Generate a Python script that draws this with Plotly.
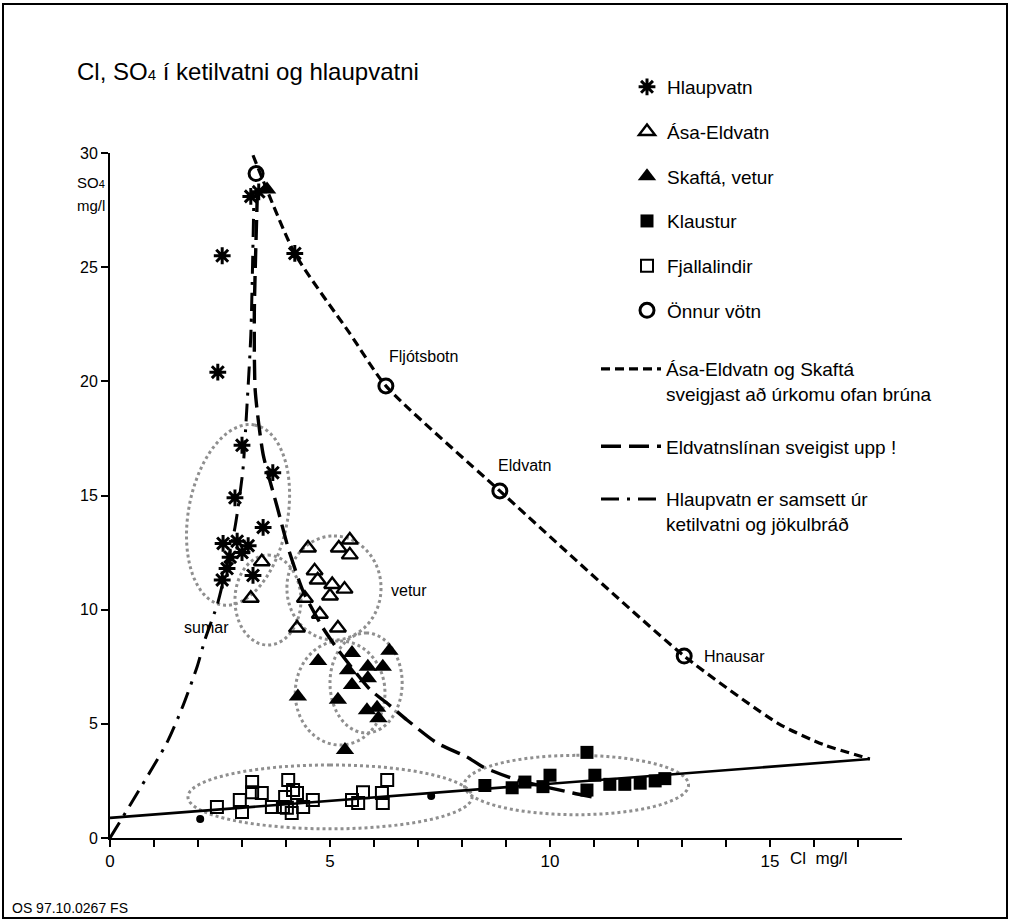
import numpy as np
import plotly.graph_objects as go

FONT = "Liberation Sans, Arial, Helvetica, sans-serif"

# ---- measured samples: Cl (mg/l) and SO4 (mg/l) ----
hlaup_cl = [3.20, 3.38, 2.55, 4.20, 2.45, 3.00, 3.70, 2.84, 3.48, 2.57, 2.89, 3.14, 3.00, 2.73, 2.66, 2.55, 3.25]
hlaup_so4 = [28.1, 28.3, 25.5, 25.6, 20.4, 17.2, 16.0, 14.9, 13.6, 12.9, 13.0, 12.8, 12.5, 12.3, 11.8, 11.3, 11.5]

asa_cl = [3.45, 3.20, 4.50, 5.20, 5.45, 5.45, 4.65, 4.72, 5.05, 5.33, 5.00, 4.43, 4.77, 4.25, 5.18]
asa_so4 = [12.1, 10.5, 12.7, 12.7, 13.05, 12.4, 11.7, 11.3, 11.1, 10.9, 10.6, 10.5, 9.8, 9.2, 9.2]

skafta_cl = [3.57, 4.73, 5.50, 6.35, 5.86, 6.20, 5.41, 5.86, 5.50, 4.27, 5.18, 5.84, 6.07, 6.10, 5.34]
skafta_so4 = [28.4, 7.75, 8.10, 8.20, 7.50, 7.50, 7.35, 7.00, 6.70, 6.20, 6.05, 5.60, 5.70, 5.25, 3.85]

klaustur_cl = [8.52, 9.14, 9.43, 9.84, 10.00, 10.84, 10.84, 11.02, 11.36, 11.70, 12.05, 12.39, 12.61]
klaustur_so4 = [2.30, 2.20, 2.45, 2.25, 2.75, 3.75, 2.10, 2.75, 2.35, 2.35, 2.40, 2.50, 2.60]

fjalla_cl = [2.43, 2.95, 3.00, 3.23, 3.23, 3.45, 3.68, 3.93, 4.05, 4.16, 3.98, 4.25, 4.02, 4.13, 4.39, 4.61,
             5.50, 5.75, 5.64, 6.18, 6.30, 6.20]
fjalla_so4 = [1.36, 1.66, 1.14, 2.45, 2.00, 1.97, 1.36, 1.36, 2.54, 2.10, 1.80, 1.97, 1.33, 1.10, 1.36, 1.66,
              1.66, 2.00, 1.53, 1.97, 2.54, 1.53]

onnur_cl = [3.32, 6.27, 8.86, 13.05]
onnur_so4 = [29.1, 19.8, 15.2, 7.97]
onnur_names = ["", "Fljótsbotn", "Eldvatn", "Hnausar"]

dots_cl = [2.05, 7.30]
dots_so4 = [0.83, 1.84]

# ---- drawn trend lines ----
rain_cl = [3.25, 4.20, 5.45, 6.27, 8.86, 13.05, 15.20, 16.20, 17.27]
rain_so4 = [29.9, 25.6, 22.1, 19.8, 15.2, 7.97, 5.00, 4.10, 3.46]

eld_cl = [3.35, 3.28, 3.30, 3.48, 3.80, 4.05, 4.39, 4.84, 5.20, 5.91, 6.30, 6.75, 7.43, 8.11, 8.48, 9.25, 10.52, 11.07]
eld_so4 = [28.3, 23.0, 19.6, 16.8, 14.5, 12.7, 10.8, 9.2, 8.2, 6.5, 5.9, 5.17, 4.16, 3.55, 3.11, 2.54, 1.97, 1.75]

mix_cl = [0.00, 1.30, 1.66, 1.98, 2.16, 2.45, 2.84, 3.02, 3.10, 3.20, 3.27]
mix_so4 = [0.0, 4.2, 5.8, 7.5, 8.7, 10.3, 13.6, 16.1, 18.5, 22.0, 28.0]

base_cl = [0.0, 17.27]
base_so4 = [0.88, 3.46]

# group outlines: centre, half-axis vector 1, half-axis vector 2 (data units)
groups = [
    ((2.91, 14.15), (0.375, 3.94), (1.11, -0.39)),
    ((3.59, 10.42), (0.0, 1.97), (0.75, 0.0)),
    ((5.09, 10.95), (0.0, 2.28), (1.07, 0.0)),
    ((5.23, 6.35), (0.0, 2.28), (1.02, 0.0)),
    ((5.82, 6.79), (0.0, 2.19), (0.82, 0.0)),
    ((5.00, 1.80), (0.0, 1.40), (3.23, 0.0)),
    ((10.60, 2.32), (0.0, 1.30), (2.55, 0.0)),
]

x_ticks = list(range(0, 18))
x_ticktext = [str(v) if v in (0, 5, 10, 15) else "" for v in x_ticks]
y_ticks = [0, 5, 10, 15, 20, 25, 30]

# plot-area geometry in pixels (figure 1012 x 921)
L, R, T, B = 110, 902, 153, 838
W, H = R - L, B - T


def px(xp):
    return (xp - L) / W


def py(yp):
    return (B - yp) / H


fig = go.Figure()

for i, (cl, so4, name, sym, size, lw) in enumerate([
    (hlaup_cl, hlaup_so4, "Hlaupvatn", "asterisk", 14, 3.0),
    (asa_cl, asa_so4, "Ása-Eldvatn", "triangle-up-open", 14, 2.4),
    (skafta_cl, skafta_so4, "Skaftá, vetur", "triangle-up", 16, 0),
    (klaustur_cl, klaustur_so4, "Klaustur", "square", 13, 0),
    (fjalla_cl, fjalla_so4, "Fjallalindir", "square-open", 12, 2.0),
    (onnur_cl, onnur_so4, "Önnur vötn", "circle-open", 14, 3.0),
]):
    fig.add_trace(go.Scatter(
        x=cl, y=so4, mode="markers", name=name, legend="legend", legendgroup=f"m{i}",
        marker=dict(symbol=sym, size=size, color="black", line=dict(color="black", width=lw)),
        cliponaxis=False,
    ))

fig.add_trace(go.Scatter(x=dots_cl, y=dots_so4, mode="markers", showlegend=False,
                         marker=dict(symbol="circle", size=8, color="black")))

fig.add_trace(go.Scatter(x=base_cl, y=base_so4, mode="lines", showlegend=False,
                         line=dict(color="black", width=2.6)))

for i, (cl, so4, name, dash, lw) in enumerate([
    (rain_cl, rain_so4, "Ása-Eldvatn og Skaftá<br>sveigjast að úrkomu ofan brúna", "9px,5px", 3.2),
    (eld_cl, eld_so4, "Eldvatnslínan sveigist upp !", "20px,8px", 3.4),
    (mix_cl, mix_so4, "Hlaupvatn er samsett úr<br>ketilvatni og jökulbráð", "18px,8px,3px,8px", 3.0),
]):
    fig.add_trace(go.Scatter(
        x=cl, y=so4, mode="lines", name=name, legend="legend2", legendgroup=f"l{i}",
        line=dict(color="black", width=lw, dash=dash, shape="spline", smoothing=0.6),
    ))

shapes = []
t = np.linspace(0, 2 * np.pi, 91)
for (cx, cy), (ux, uy), (vx, vy) in groups:
    xs = cx + ux * np.cos(t) + vx * np.sin(t)
    ys = cy + uy * np.cos(t) + vy * np.sin(t)
    path = "M" + " L".join(f"{a:.3f},{b:.3f}" for a, b in zip(xs, ys)) + " Z"
    shapes.append(dict(type="path", xref="x", yref="y", path=path,
                       line=dict(color="#8f8f8f", width=3, dash="dot"), layer="below"))

# outer frame
shapes.append(dict(type="rect", xref="paper", yref="paper",
                   x0=px(3), x1=px(1007), y0=py(918), y1=py(4),
                   line=dict(color="black", width=2)))

LBL = dict(family=FONT, size=16, color="black")
annotations = [
    dict(xref="paper", yref="paper", x=px(75), y=py(72), xanchor="left", yanchor="middle",
         text="Cl, SO<span style='font-size:15px'>4</span> í ketilvatni og hlaupvatni",
         showarrow=False, font=dict(family=FONT, size=24, color="black")),
    dict(xref="paper", yref="paper", x=0, xshift=-3, y=py(183), xanchor="right", yanchor="middle",
         text="SO<span style='font-size:11px'>4</span>", showarrow=False,
         font=dict(family=FONT, size=15, color="black")),
    dict(xref="paper", yref="paper", x=0, xshift=-3, y=py(205), xanchor="right", yanchor="middle",
         text="mg/l", showarrow=False, font=dict(family=FONT, size=15, color="black")),
    dict(xref="x", yref="paper", x=15.4, y=0, yshift=-20, xanchor="left", yanchor="middle",
         text="Cl  mg/l", showarrow=False, font=dict(family=FONT, size=17, color="black")),
    dict(xref="paper", yref="paper", x=px(10), y=py(908), xanchor="left", yanchor="middle",
         text="OS 97.10.0267 FS", showarrow=False, font=dict(family=FONT, size=14, color="black")),
    dict(xref="x", yref="y", x=2.2, y=9.2, text="sumar", showarrow=False, font=LBL),
    dict(xref="x", yref="y", x=6.8, y=10.85, text="vetur", showarrow=False, font=LBL),
]
label_pos = {"Fljótsbotn": (6.3, 21.1), "Eldvatn": (8.77, 16.3), "Hnausar": (13.45, 7.95)}
for nm in onnur_names:
    if nm:
        lx, ly = label_pos[nm]
        annotations.append(dict(xref="x", yref="y", x=lx, y=ly, xanchor="left", yanchor="middle",
                                text=nm, showarrow=False, font=LBL))

fig.update_layout(
    width=1012, height=921,
    margin=dict(l=L, r=1012 - R, t=T, b=921 - B, pad=0),
    paper_bgcolor="white", plot_bgcolor="white",
    font=dict(family=FONT, color="black"),
    showlegend=True,
    xaxis=dict(range=[0, 18], tickvals=x_ticks, ticktext=x_ticktext, showgrid=False, zeroline=False,
               showline=True, linecolor="black", linewidth=2, ticks="outside", ticklen=7,
               tickwidth=1.5, tickcolor="black", tickfont=dict(family=FONT, size=17, color="black")),
    yaxis=dict(range=[0, 30], tickvals=y_ticks, showgrid=False, zeroline=False,
               showline=True, linecolor="black", linewidth=2, ticks="outside", ticklen=7,
               tickwidth=1.5, tickcolor="black", tickfont=dict(family=FONT, size=16, color="black")),
    legend=dict(x=px(627), y=py(68), xanchor="left", yanchor="top", bgcolor="rgba(0,0,0,0)",
                font=dict(family=FONT, size=19, color="black"), tracegroupgap=17,
                itemsizing="trace"),
    legend2=dict(x=px(596), y=py(350), xanchor="left", yanchor="top", bgcolor="rgba(0,0,0,0)",
                 font=dict(family=FONT, size=19, color="black"), tracegroupgap=25,
                 itemwidth=60, valign="top"),
    shapes=shapes,
    annotations=annotations,
)

fig.write_html("out.html")
